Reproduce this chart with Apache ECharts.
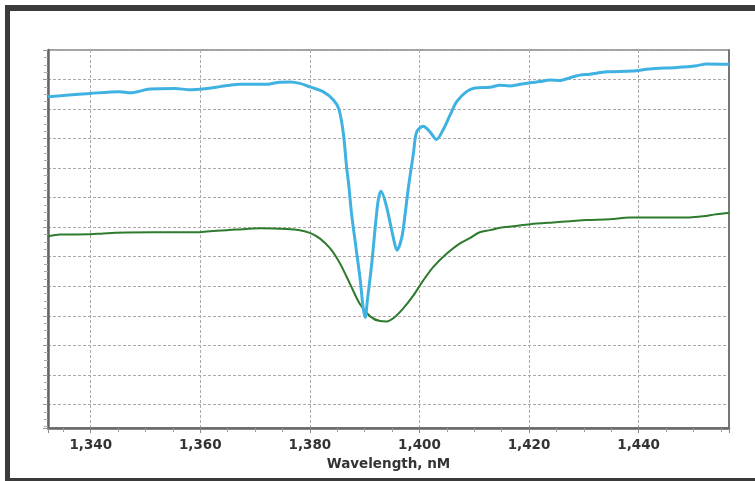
<!DOCTYPE html>
<html>
<head>
<meta charset="utf-8">
<script src="https://cdn.jsdelivr.net/npm/echarts@6/dist/echarts.min.js"></script>
<style>
  html, body { margin: 0; padding: 0; background: #fff; overflow: hidden; width: 755px; height: 481px; }
  #chart { position: absolute; left: 0; top: 0; width: 755px; height: 481px; }
</style>
</head>
<body>
<div id="chart"></div>
<script>
// Wavelength (nM) and relative signal (arbitrary units, one unit per grid line)
const blueWavelength = [1332.2,1334.4,1339.9,1345.3,1347.2,1350.8,1355.4,1358.1,1360.9,1363.6,1365.4,1367.2,1370.9,1372.7,1374.5,1376.4,1378.2,1380.0,1382.4,1384.3,1385.3,1386.1,1386.7,1387.1,1387.6,1388.4,1389.2,1389.7,1390.1,1390.5,1391.3,1392.0,1392.5,1393.0,1394.0,1395.2,1395.9,1396.8,1397.4,1398.0,1398.9,1399.5,1400.7,1401.9,1403.1,1404.3,1405.6,1406.8,1408.6,1410.1,1412.9,1414.7,1416.5,1418.4,1420.2,1422.0,1423.8,1425.6,1427.5,1429.3,1431.1,1434.2,1438.9,1442.0,1446.9,1450.6,1452.4,1456.5];
const blueValues = [10.42,10.45,10.53,10.59,10.55,10.68,10.70,10.65,10.69,10.76,10.81,10.84,10.84,10.85,10.91,10.92,10.87,10.75,10.59,10.31,10.00,9.19,8.04,7.42,6.47,5.33,4.20,3.30,2.94,3.53,4.78,6.14,6.95,7.22,6.69,5.67,5.22,5.67,6.47,7.37,8.50,9.23,9.42,9.23,8.97,9.29,9.80,10.25,10.59,10.71,10.74,10.81,10.78,10.84,10.89,10.93,10.98,10.97,11.06,11.15,11.18,11.26,11.29,11.36,11.41,11.47,11.53,11.52];

const greenWavelength = [1332.3,1334.4,1339.9,1342.3,1346.6,1351.4,1359.9,1361.2,1364.8,1366.6,1370.9,1375.8,1378.2,1380.0,1381.8,1383.7,1385.5,1387.3,1389.1,1391.0,1392.8,1394.0,1395.5,1397.0,1398.9,1400.7,1402.5,1405.0,1407.4,1409.2,1411.0,1412.9,1414.7,1417.1,1420.2,1424.4,1427.5,1430.5,1434.8,1438.4,1442.7,1449.3,1451.8,1454.2,1456.5];
const greenValues = [5.69,5.75,5.76,5.79,5.82,5.83,5.83,5.85,5.90,5.92,5.96,5.94,5.90,5.81,5.62,5.28,4.77,4.09,3.41,2.98,2.82,2.81,2.96,3.24,3.69,4.20,4.65,5.11,5.45,5.63,5.83,5.90,5.98,6.03,6.10,6.16,6.20,6.24,6.27,6.33,6.33,6.33,6.37,6.44,6.48];

const xMin = 1332.2, xMax = 1456.5;
const yMin = -0.8, yMax = 12;
const axisTitle = 'Wavelength, nM';

const pairs = (xs, ys) => xs.map((x, i) => [x, ys[i]]);

const chart = echarts.init(document.getElementById('chart'), null, { renderer: 'canvas' });
const labelFont = { fontFamily: 'DejaVu Sans', fontWeight: 'bold', fontSize: 13.5, color: '#333' };
const frameColor = '#3a3a3a';
chart.setOption({
  animation: false,
  backgroundColor: '#fff',
  graphic: [
    { type: 'rect', shape: { x: 5, y: 5, width: 750, height: 6 }, style: { fill: frameColor }, silent: true },
    { type: 'rect', shape: { x: 5, y: 5, width: 5, height: 476 }, style: { fill: frameColor }, silent: true },
    { type: 'rect', shape: { x: 5, y: 478, width: 750, height: 3 }, style: { fill: frameColor }, silent: true }
  ],
  grid: { left: 48, top: 50, right: 26, bottom: 53, show: true, borderColor: '#444', borderWidth: 1, backgroundColor: '#fff' },
  xAxis: {
    type: 'value', min: xMin, max: xMax, splitNumber: 6,
    name: axisTitle, nameLocation: 'middle', nameGap: 29,
    nameTextStyle: Object.assign({}, labelFont),
    axisLine: { show: true, onZero: false, lineStyle: { color: '#666', width: 2.5 } },
    axisTick: { show: true, length: 5, lineStyle: { color: '#888' } },
    minorTick: { show: true, splitNumber: 4, length: 4, lineStyle: { color: '#999' } },
    axisLabel: Object.assign({ margin: 10, showMinLabel: false, showMaxLabel: false,
      formatter: v => v.toLocaleString('en-US') }, labelFont),
    splitLine: { show: true, lineStyle: { color: '#aaa', type: [3, 2], width: 1 } }
  },
  yAxis: [{
    type: 'value', min: yMin, max: yMax, splitNumber: 13,
    axisLine: { show: true, onZero: false, lineStyle: { color: '#666', width: 2.5 } },
    axisTick: { show: true, length: 5, lineStyle: { color: '#999' } },
    minorTick: { show: true, splitNumber: 4, length: 4, lineStyle: { color: '#aaa' } },
    axisLabel: { show: false },
    splitLine: { show: true, lineStyle: { color: '#b0a8a8', type: [3, 2], width: 1 } }
  }, {
    type: 'value', min: yMin, max: yMax, position: 'right',
    axisLine: { show: true, onZero: false, lineStyle: { color: '#777', width: 2 } },
    axisTick: { show: false }, axisLabel: { show: false }, splitLine: { show: false }
  }],
  series: [{
    type: 'line', data: pairs(greenWavelength, greenValues), showSymbol: false, smooth: 0.3,
    lineStyle: { color: '#2e7a2e', width: 2 }, z: 3
  }, {
    type: 'line', data: pairs(blueWavelength, blueValues), showSymbol: false, smooth: 0.3,
    lineStyle: { color: '#40b2e2', width: 3 }, z: 4
  }]
});
</script>
</body>
</html>
